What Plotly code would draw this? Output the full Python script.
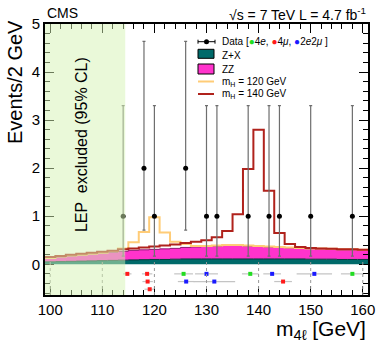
import numpy as np
import plotly.graph_objects as go

# bins: 2 GeV wide, 99 -> 161
bin_lo = list(range(99, 161, 2))

# Z+X and ZZ+Z+X top
zx = [0.05, 0.055, 0.06, 0.065, 0.07, 0.075, 0.08, 0.085, 0.09, 0.095, 0.10,
      0.10, 0.105, 0.11, 0.11, 0.11, 0.11, 0.11, 0.11, 0.11, 0.11, 0.11,
      0.11, 0.11, 0.11, 0.105, 0.105, 0.105, 0.10, 0.10, 0.10]
bkg_top = [0.12, 0.15, 0.17, 0.19, 0.21, 0.23, 0.25, 0.27, 0.29, 0.30, 0.31,
           0.32, 0.33, 0.35, 0.36, 0.37, 0.38, 0.39, 0.39, 0.38, 0.37, 0.36,
           0.35, 0.34, 0.33, 0.32, 0.32, 0.31, 0.30, 0.30, 0.29]
# signal + background totals
mh120_top = [0.13, 0.16, 0.18, 0.20, 0.22, 0.24, 0.27, 0.33, 0.46, 0.67, 0.98,
             0.66, 0.47, 0.42, 0.38, 0.38, 0.39, 0.40, 0.40, 0.39, 0.38, 0.37,
             0.36, 0.35, 0.34, 0.33, 0.33, 0.32, 0.31, 0.31, 0.30]
mh140_top = [0.15, 0.17, 0.20, 0.22, 0.24, 0.26, 0.28, 0.31, 0.33, 0.35, 0.37,
             0.39, 0.41, 0.44, 0.47, 0.50, 0.56, 0.69, 1.04, 1.98, 2.80, 1.53,
             0.65, 0.42, 0.36, 0.34, 0.33, 0.32, 0.31, 0.31, 0.30]

# data points (bin centres) with Poisson errors
data_x = [114, 118, 120, 126, 130, 132, 138, 142, 144, 150, 158]
data_n = [1, 2, 1, 2, 1, 1, 1, 1, 1, 1, 1]
data_up = [2.30, 2.64, 2.30, 2.64, 2.30, 2.30, 2.30, 2.30, 2.30, 2.30, 2.30]
data_dn = [0.83, 1.29, 0.83, 1.29, 0.83, 0.83, 0.83, 0.83, 0.83, 0.83, 0.83]

# individual events: mass, mass error, row, channel
ev_mass = [114.8, 118.6, 125.6, 130.0, 138.4, 142.6, 150.7, 158.0,
           118.7, 126.1, 131.5, 144.7, 119.1]
ev_err = [0.8, 1.0, 1.8, 2.2, 1.6, 1.7, 3.4, 2.2, 1.0, 1.6, 4.0, 1.7, 1.0]
ev_row = [-0.20] * 8 + [-0.36] * 4 + [-0.52]
ev_chan = ["4mu", "4mu", "4e", "2e2mu", "4e", "2e2mu", "2e2mu", "4e",
           "4mu", "2e2mu", "2e2mu", "4mu", "4mu"]
chan_col = {"4e": "#22dd22", "4mu": "#ff1a1a", "2e2mu": "#1a1aff"}

TEAL = "#006a6a"
PINK = "#ff33cc"
ORANGE = "#ffcc77"
DRED = "#b0221c"


def steps(vals):
    x = bin_lo + [161]
    y = list(vals) + [vals[-1]]
    return x, y


fig = go.Figure()

x, y = steps(zx)
fig.add_trace(go.Scatter(x=x, y=y, mode="lines", line=dict(shape="hv", color="#003838", width=1),
                         fill="tozeroy", fillcolor=TEAL, showlegend=False))
x, y = steps(bkg_top)
fig.add_trace(go.Scatter(x=x, y=y, mode="lines", line=dict(shape="hv", color="#8a1a70", width=1),
                         fill="tonexty", fillcolor=PINK, showlegend=False))
x, y = steps(mh120_top)
fig.add_trace(go.Scatter(x=x, y=y, mode="lines", line=dict(shape="hv", color=ORANGE, width=2),
                         showlegend=False))
x, y = steps(mh140_top)
fig.add_trace(go.Scatter(x=x, y=y, mode="lines", line=dict(shape="hv", color=DRED, width=2),
                         showlegend=False))

fig.add_trace(go.Scatter(
    x=data_x, y=data_n, mode="markers",
    marker=dict(color="black", size=5),
    error_y=dict(type="data", symmetric=False, array=data_up, arrayminus=data_dn,
                 color="#6e6e6e", thickness=1.2, width=1.5),
    showlegend=False))

fig.add_trace(go.Scatter(
    x=ev_mass, y=ev_row, mode="markers",
    marker=dict(color=[chan_col[c] for c in ev_chan], size=4, symbol="square"),
    error_x=dict(type="data", array=ev_err, color="#c4c4c4", thickness=1.2, width=0),
    showlegend=False))

# dashed markers in the lower region
for xv in range(100, 161, 10):
    fig.add_shape(type="line", x0=xv, x1=xv, y0=-0.64, y1=0.11, layer="above",
                  line=dict(color="#999999", width=1, dash="dot"))

# LEP excluded band
fig.add_shape(type="rect", x0=99, x1=114.4, y0=-0.64, y1=5, layer="above",
              fillcolor="rgba(214,244,180,0.5)", line=dict(width=0))
fig.add_annotation(x=106.0, y=2.49, text="LEP  excluded (95% CL)", textangle=-90,
                   showarrow=False, font=dict(size=16, color="black"))

# ---- legend drawn by hand (window pixel -> paper)
def px_x(p):
    return (p - 45) / 323


def px_y(p):
    return (295 - p) / 271


ly = 41.7
fig.add_shape(type="line", xref="paper", yref="paper", x0=px_x(198), x1=px_x(215),
              y0=px_y(ly), y1=px_y(ly), line=dict(color="black", width=1))
for cx in (198, 215):
    fig.add_shape(type="line", xref="paper", yref="paper", x0=px_x(cx), x1=px_x(cx),
                  y0=px_y(ly - 2), y1=px_y(ly + 2), line=dict(color="black", width=1))
fig.add_shape(type="circle", xref="paper", yref="paper", x0=px_x(204), x1=px_x(209),
              y0=px_y(ly + 2.5), y1=px_y(ly - 2.5), fillcolor="black", line=dict(width=0))
fig.add_shape(type="rect", xref="paper", yref="paper", x0=px_x(198), x1=px_x(214),
              y0=px_y(58.3), y1=px_y(49.3), fillcolor=TEAL, line=dict(color="black", width=1))
fig.add_shape(type="rect", xref="paper", yref="paper", x0=px_x(198), x1=px_x(214),
              y0=px_y(74), y1=px_y(64), fillcolor=PINK, line=dict(color="black", width=1))
fig.add_shape(type="line", xref="paper", yref="paper", x0=px_x(198), x1=px_x(214),
              y0=px_y(81.5), y1=px_y(81.5), line=dict(color=ORANGE, width=2))
fig.add_shape(type="line", xref="paper", yref="paper", x0=px_x(198), x1=px_x(214),
              y0=px_y(94), y1=px_y(94), line=dict(color=DRED, width=2))

leg_txt = [
    (41.7, "Data [<span style='color:#22dd22'>●</span>4<i>e</i>, "
           "<span style='color:#ff1a1a'>●</span>4<i>μ</i>, "
           "<span style='color:#1a1aff'>●</span>2<i>e</i>2<i>μ</i> ]"),
    (55, "Z+X"),
    (69, "ZZ"),
    (81.5, "m<sub>H</sub> = 120 GeV"),
    (94, "m<sub>H</sub> = 140 GeV"),
]
for yy, t in leg_txt:
    fig.add_annotation(xref="paper", yref="paper", x=px_x(220), y=px_y(yy), text=t,
                       xanchor="left", yanchor="middle", showarrow=False,
                       font=dict(size=10, color="black"))

fig.add_annotation(xref="paper", yref="paper", x=0.0, y=px_y(13), text="CMS",
                   xanchor="left", yanchor="middle", showarrow=False,
                   font=dict(size=14, color="black"))
fig.add_annotation(xref="paper", yref="paper", x=1.0, y=px_y(14),
                   text="√s = 7 TeV L = 4.7 fb<sup>-1</sup>",
                   xanchor="right", yanchor="middle", showarrow=False,
                   font=dict(size=14, color="black"))
fig.add_annotation(xref="paper", yref="paper", x=1.0, y=px_y(330),
                   text="m<sub>4ℓ</sub> [GeV]",
                   xanchor="right", yanchor="middle", showarrow=False,
                   font=dict(size=21, color="black"))
fig.add_annotation(xref="paper", yref="paper", x=px_x(15), y=px_y(18),
                   text="Events/2 GeV", textangle=-90,
                   xanchor="center", yanchor="top", showarrow=False,
                   font=dict(size=20, color="black"))

axis_common = dict(showgrid=False, zeroline=False, showline=True, linecolor="black",
                   linewidth=2, mirror="ticks", ticks="inside", ticklen=9,
                   tickcolor="black", tickwidth=1, automargin=False,
                   tickfont=dict(size=15, color="black"))
fig.update_xaxes(range=[99, 161], dtick=10, tick0=100,
                 minor=dict(dtick=2, ticklen=5, ticks="inside", tickcolor="black"),
                 **axis_common)
fig.update_yaxes(range=[-0.64, 5], dtick=1, tick0=0,
                 minor=dict(dtick=0.2, ticklen=5, ticks="inside", tickcolor="black"),
                 **axis_common)

fig.update_layout(width=383, height=350,
                  margin=dict(l=45, r=15, t=24, b=55),
                  plot_bgcolor="white", paper_bgcolor="white",
                  font=dict(family="Liberation Sans, Arial, sans-serif"),
                  showlegend=False)

# drop the default 8px page margin so the figure sits at the window corner
fig.write_html("out.html", config={"displayModeBar": False},
               post_script="document.body.style.margin='0px';")
